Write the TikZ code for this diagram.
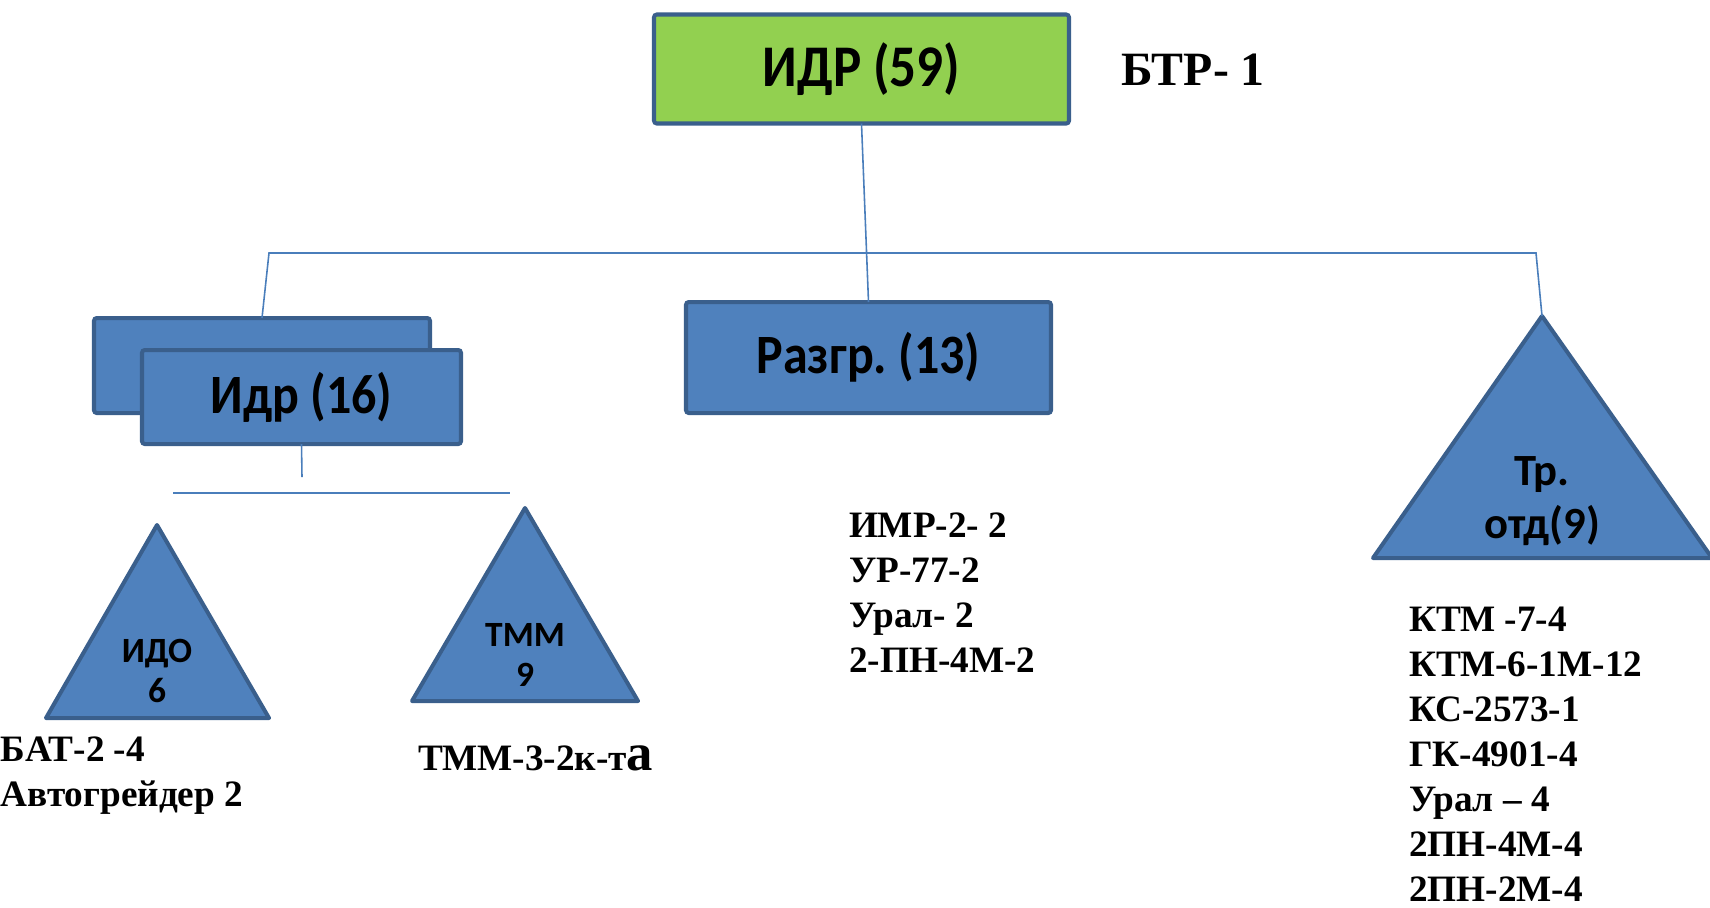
\documentclass[tikz,border=0pt]{standalone}
\usepackage{fontspec}
\setmainfont{Liberation Serif}
\setsansfont{Carlito}
\usepackage{graphicx}
\usepackage{xcolor}
\definecolor{boxblue}{HTML}{4F81BD}
\definecolor{boxline}{HTML}{3A5F8C}
\definecolor{topgreen}{HTML}{92D050}
\definecolor{linkblue}{HTML}{4A7EBB}
\newcommand{\slimtxt}[1]{\scalebox{0.9}[1]{#1}}
\frenchspacing

\begin{document}
\begin{tikzpicture}[x=0.1mm, y=-0.1mm,
    every node/.style={inner sep=0pt, outer sep=0pt},
    unitbox/.style={
        rectangle,
        rounded corners=0.8pt,
        draw=boxline,
        line width=1.15pt,
        fill=boxblue,
        font=\sffamily\bfseries\fontsize{15.8}{18}\selectfont
    },
    trishape/.style={draw=boxline, line width=1.15pt, fill=boxblue, line join=round},
    tritxt/.style={align=center, font=\sffamily\bfseries},
    kitlist/.style={anchor=north west, align=left, font=\bfseries\fontsize{10.6}{12.8}\selectfont},
    link/.style={draw=linkblue, line width=0.45pt}
]

    \useasboundingbox (0,0) rectangle (1710,907);



    \node (idr_main) [unitbox, fill=topgreen, minimum width=41.5mm, minimum height=10.9mm,
        font=\sffamily\bfseries\fontsize{16.8}{19}\selectfont, shift={(861.5,69)}]
    {
        \slimtxt{ИДР (59)}
    };

    \node (btr_txt) [anchor=base west, font=\bfseries\fontsize{13.6}{16}\selectfont, shift={(1121,85)}]
    {
        БТР- 1
    };



    \node (idr_back) [unitbox, minimum width=33.6mm, minimum height=9.5mm, shift={(262,365.5)}] {};

    \node (idr_front) [unitbox, minimum width=31.9mm, minimum height=9.4mm, shift={(301.5,397)}]
    {
        \slimtxt{Идр (16)}
    };

    \node (razgr_box) [unitbox, minimum width=36.5mm, minimum height=11.1mm, shift={(868.5,357.5)}]
    {
        \slimtxt{Разгр. (13)}
    };



    \coordinate (tr_apex) at (1542,316);
    \draw[trishape] (tr_apex) -- (1712,558) -- (1373,558) -- cycle;
    \node (tr_otd_txt) [tritxt, font=\sffamily\bfseries\fontsize{12.7}{15}\selectfont, shift={(1542,501)}]
    {
        Тр.\\отд(9)
    };

    \coordinate (ido_apex) at (157,525);
    \draw[trishape] (ido_apex) -- (269,718) -- (46,718) -- cycle;
    \node (ido_txt) [tritxt, font=\sffamily\bfseries\fontsize{10.1}{11.4}\selectfont, shift={(157,671)}]
    {
        ИДО\\6
    };

    \coordinate (tmm_apex) at (525,508);
    \draw[trishape] (tmm_apex) -- (638,701) -- (412,701) -- cycle;
    \node (tmm_txt) [tritxt, font=\sffamily\bfseries\fontsize{10.1}{11.4}\selectfont, shift={(525,655)}]
    {
        ТММ\\9
    };



    \node (ido_list) [kitlist, shift={(1,737)}]
    {
        БАТ-2 -4\\
        Автогрейдер 2
    };

    \node (tmm_list) [anchor=base west, font=\bfseries\fontsize{10.6}{12.8}\selectfont, shift={(418,770)}]
    {
        ТММ-3-2к-т{\fontsize{15}{15}\selectfont а}
    };

    \node (razgr_list) [kitlist, shift={(849,513)}]
    {
        ИМР-2- 2\\
        УР-77-2\\
        Урал- 2\\
        2-ПН-4М-2
    };

    \node (tr_list) [kitlist, shift={(1409,607)}]
    {
        КТМ -7-4\\
        КТМ-6-1М-12\\
        КС-2573-1\\
        ГК-4901-4\\
        Урал – 4\\
        2ПН-4М-4\\
        2ПН-2М-4
    };



    \coordinate (bar_left) at (269,253);
    \coordinate (bar_right) at (1536,253);
    \coordinate (idr_stub) at (302,477);
    \coordinate (sub_bar_left) at (173,493);
    \coordinate (sub_bar_right) at (510,493);

    \draw[link] (idr_main.south) to (razgr_box.north);
    \draw[link] (idr_back.north) -- (bar_left) -- (bar_right) -- (tr_apex);
    \draw[link] (idr_front.south) to (idr_stub);
    \draw[link] (sub_bar_left) to (sub_bar_right);


\end{tikzpicture}
\end{document}
